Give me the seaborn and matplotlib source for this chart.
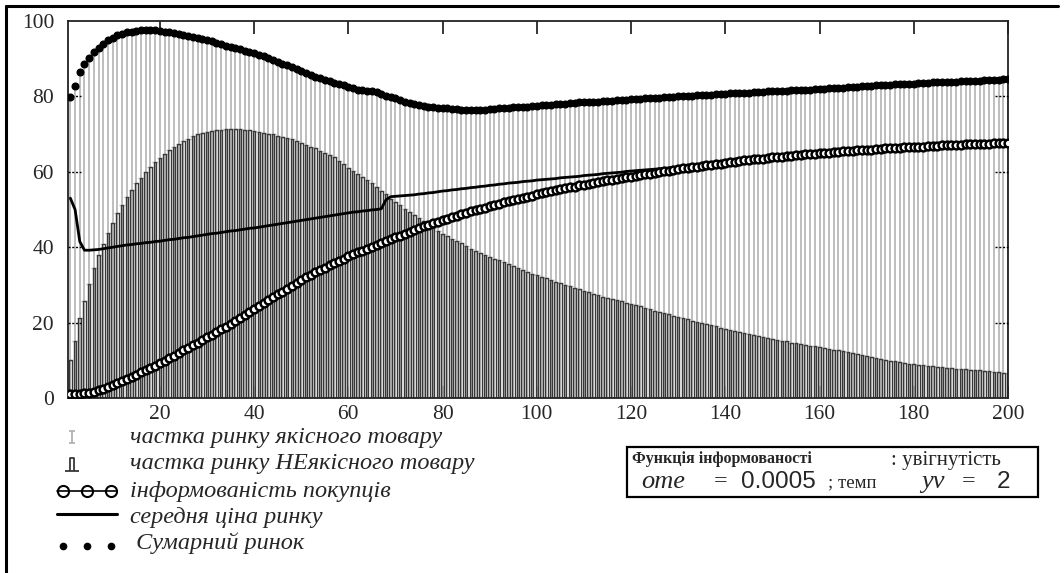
import numpy as np
import matplotlib
matplotlib.use("Agg")
import matplotlib.pyplot as plt
from matplotlib.lines import Line2D
from matplotlib.path import Path
import seaborn as sns

# step number (1..200)
x = np.arange(1, 201)

# total market (black dots)
total = [
    79.9, 82.8, 86.4, 88.5, 90.2, 91.7, 92.9, 94.0, 94.9, 95.6,
    96.2, 96.6, 97.0, 97.2, 97.4, 97.5, 97.6, 97.5, 97.5, 97.4,
    97.2, 97.0, 96.8, 96.6, 96.3, 96.1, 95.8, 95.5, 95.2, 94.9,
    94.6, 94.2, 93.8, 93.4, 93.1, 92.8, 92.5, 92.1, 91.7, 91.4,
    91.0, 90.6, 90.1, 89.6, 89.2, 88.7, 88.2, 87.7, 87.2, 86.7,
    86.2, 85.7, 85.2, 84.8, 84.4, 84.0, 83.6, 83.2, 82.9, 82.6,
    82.2, 81.8, 81.6, 81.4, 81.3, 81.1, 80.6, 80.2, 79.9, 79.5,
    79.0, 78.6, 78.2, 77.9, 77.6, 77.4, 77.2, 77.1, 77.0, 76.9,
    76.8, 76.7, 76.6, 76.5, 76.4, 76.4, 76.4, 76.5, 76.5, 76.6,
    76.7, 76.8, 76.9, 77.0, 77.1, 77.2, 77.3, 77.3, 77.4, 77.5,
    77.6, 77.7, 77.8, 77.9, 78.0, 78.1, 78.2, 78.3, 78.4, 78.4,
    78.5, 78.6, 78.6, 78.7, 78.8, 78.9, 79.0, 79.0, 79.1, 79.2,
    79.3, 79.4, 79.5, 79.5, 79.6, 79.7, 79.8, 79.9, 79.9, 80.0,
    80.1, 80.1, 80.2, 80.3, 80.4, 80.4, 80.5, 80.6, 80.6, 80.7,
    80.8, 80.8, 80.9, 80.9, 81.0, 81.1, 81.1, 81.2, 81.3, 81.3,
    81.4, 81.4, 81.5, 81.6, 81.6, 81.7, 81.7, 81.8, 81.9, 81.9,
    82.0, 82.1, 82.2, 82.2, 82.3, 82.4, 82.5, 82.6, 82.7, 82.8,
    82.8, 82.9, 83.0, 83.1, 83.1, 83.2, 83.3, 83.3, 83.4, 83.4,
    83.5, 83.6, 83.6, 83.7, 83.7, 83.8, 83.8, 83.9, 83.9, 84.0,
    84.0, 84.1, 84.1, 84.2, 84.3, 84.3, 84.4, 84.4, 84.5, 84.5,
]

# share of the low-quality goods (dark bars)
low_share = [
    10.1, 15.0, 21.2, 25.8, 30.2, 34.4, 38.0, 40.9, 43.7, 46.3,
    49.0, 51.3, 53.4, 55.2, 56.9, 58.4, 60.0, 61.4, 62.6, 63.7,
    64.8, 65.8, 66.7, 67.5, 68.2, 68.8, 69.4, 69.9, 70.3, 70.6,
    70.9, 71.1, 71.2, 71.3, 71.4, 71.4, 71.3, 71.2, 71.0, 70.8,
    70.6, 70.4, 70.1, 69.9, 69.6, 69.3, 68.9, 68.6, 68.2, 67.7,
    67.2, 66.7, 66.2, 65.6, 65.0, 64.4, 63.8, 62.9, 62.0, 61.1,
    60.2, 59.4, 58.6, 57.8, 56.9, 56.0, 55.0, 54.0, 52.9, 52.0,
    51.1, 50.2, 49.4, 48.6, 47.8, 46.9, 46.1, 45.2, 44.3, 43.6,
    43.0, 42.3, 41.6, 41.0, 40.3, 39.6, 39.0, 38.5, 38.0, 37.5,
    37.0, 36.5, 36.0, 35.5, 35.0, 34.5, 34.0, 33.5, 33.0, 32.5,
    32.1, 31.7, 31.3, 30.9, 30.4, 30.0, 29.6, 29.2, 28.8, 28.4,
    28.0, 27.6, 27.3, 26.9, 26.6, 26.3, 26.0, 25.7, 25.3, 25.0,
    24.7, 24.4, 24.0, 23.6, 23.2, 22.8, 22.5, 22.2, 21.8, 21.5,
    21.2, 20.9, 20.5, 20.2, 19.9, 19.6, 19.3, 19.0, 18.6, 18.3,
    18.0, 17.8, 17.5, 17.3, 17.0, 16.8, 16.5, 16.3, 16.0, 15.7,
    15.5, 15.2, 15.0, 14.7, 14.5, 14.3, 14.1, 13.9, 13.7, 13.5,
    13.3, 13.1, 12.8, 12.6, 12.4, 12.2, 11.9, 11.7, 11.4, 11.2,
    10.9, 10.6, 10.4, 10.1, 9.9, 9.7, 9.5, 9.3, 9.1, 9.0,
    8.8, 8.7, 8.5, 8.4, 8.3, 8.1, 8.0, 7.9, 7.8, 7.7,
    7.6, 7.5, 7.4, 7.3, 7.2, 7.1, 7.0, 6.8, 6.7, 6.6,
]

# buyers' awareness (circles)
awareness = [
    1.0, 1.0, 1.1, 1.2, 1.4, 1.6, 2.0, 2.4, 2.9, 3.4,
    3.9, 4.4, 5.0, 5.6, 6.2, 6.8, 7.4, 8.0, 8.6, 9.2,
    9.8, 10.5, 11.2, 11.9, 12.6, 13.3, 14.0, 14.7, 15.4, 16.1,
    16.8, 17.5, 18.2, 18.9, 19.6, 20.3, 21.1, 21.9, 22.7, 23.5,
    24.3, 25.1, 25.9, 26.7, 27.5, 28.2, 29.0, 29.8, 30.6, 31.3,
    32.0, 32.7, 33.4, 34.0, 34.6, 35.2, 35.8, 36.4, 37.0, 37.6,
    38.1, 38.6, 39.1, 39.6, 40.1, 40.6, 41.1, 41.6, 42.1, 42.6,
    43.1, 43.6, 44.1, 44.6, 45.1, 45.5, 45.9, 46.3, 46.7, 47.1,
    47.5, 47.9, 48.3, 48.7, 49.1, 49.5, 49.8, 50.2, 50.5, 50.9,
    51.2, 51.5, 51.9, 52.2, 52.5, 52.8, 53.1, 53.4, 53.7, 54.0,
    54.3, 54.6, 54.8, 55.1, 55.4, 55.6, 55.9, 56.1, 56.4, 56.6,
    56.8, 57.1, 57.3, 57.5, 57.7, 57.9, 58.1, 58.3, 58.5, 58.7,
    58.9, 59.1, 59.3, 59.5, 59.7, 59.9, 60.1, 60.3, 60.5, 60.7,
    60.9, 61.1, 61.3, 61.4, 61.6, 61.8, 61.9, 62.1, 62.2, 62.4,
    62.5, 62.7, 62.8, 63.0, 63.1, 63.3, 63.4, 63.5, 63.7, 63.8,
    63.9, 64.0, 64.2, 64.3, 64.4, 64.5, 64.6, 64.7, 64.8, 64.9,
    65.0, 65.1, 65.2, 65.3, 65.4, 65.5, 65.6, 65.7, 65.8, 65.8,
    65.9, 66.0, 66.1, 66.2, 66.2, 66.3, 66.4, 66.5, 66.5, 66.6,
    66.7, 66.7, 66.8, 66.9, 66.9, 67.0, 67.0, 67.1, 67.2, 67.2,
    67.3, 67.3, 67.4, 67.4, 67.5, 67.5, 67.6, 67.6, 67.7, 67.7,
]

# average market price (solid line)
price = [
    53.0, 50.0, 41.5, 39.2, 39.2, 39.3, 39.4, 39.6, 39.8, 40.0,
    40.2, 40.4, 40.6, 40.7, 40.9, 41.0, 41.2, 41.3, 41.5, 41.6,
    41.8, 42.0, 42.1, 42.3, 42.5, 42.6, 42.8, 43.0, 43.2, 43.4,
    43.6, 43.7, 43.9, 44.1, 44.3, 44.4, 44.6, 44.8, 45.0, 45.1,
    45.3, 45.5, 45.7, 45.9, 46.1, 46.3, 46.5, 46.7, 46.9, 47.1,
    47.3, 47.5, 47.7, 47.9, 48.1, 48.3, 48.5, 48.7, 48.9, 49.1,
    49.3, 49.4, 49.6, 49.7, 49.9, 50.0, 50.2, 52.6, 53.4, 53.5,
    53.6, 53.7, 53.8, 53.9, 54.1, 54.2, 54.4, 54.5, 54.7, 54.9,
    55.0, 55.2, 55.3, 55.5, 55.6, 55.8, 55.9, 56.1, 56.2, 56.4,
    56.5, 56.7, 56.8, 57.0, 57.1, 57.2, 57.4, 57.5, 57.6, 57.8,
    57.9, 58.0, 58.1, 58.2, 58.4, 58.5, 58.6, 58.7, 58.8, 59.0,
    59.1, 59.2, 59.3, 59.5, 59.6, 59.7, 59.8, 59.9, 60.1, 60.2,
    60.3, 60.4, 60.5, 60.6, 60.7, 60.8, 60.9, 61.0, 61.1, 61.2,
    61.3, 61.4, 61.5, 61.6, 61.7, 61.8, 61.9, 62.0, 62.1, 62.2,
    62.3, 62.4, 62.5, 62.6, 62.7, 62.8, 62.9, 63.0, 63.1, 63.2,
    63.3, 63.4, 63.5, 63.6, 63.7, 63.8, 63.9, 64.0, 64.1, 64.2,
    64.3, 64.4, 64.5, 64.6, 64.7, 64.8, 64.9, 65.0, 65.1, 65.2,
    65.3, 65.4, 65.5, 65.6, 65.7, 65.8, 65.9, 66.0, 66.1, 66.2,
    66.3, 66.4, 66.5, 66.6, 66.7, 66.8, 66.9, 67.0, 67.1, 67.2,
    67.3, 67.4, 67.5, 67.6, 67.7, 67.8, 67.9, 68.0, 68.1, 68.2,
]

x_ticks = [20, 40, 60, 80, 100, 120, 140, 160, 180, 200]
y_ticks = [0, 20, 40, 60, 80, 100]
labels = [
    "частка ринку якісного товару",
    "частка ринку НЕякісного товару",
    "інформованість покупців",
    "середня ціна ринку",
    " Сумарний ринок",
]

sns.set_style("white")
plt.rcParams["font.family"] = ["Liberation Serif", "DejaVu Serif"]

W, H = 1064, 573
fig = plt.figure(figsize=(W / 100, H / 100), dpi=100)
fx = lambda p: p / W
fy = lambda p: 1 - p / H

ax = fig.add_axes([fx(68), fy(398), fx(1008) - fx(68), fy(21) - fy(398)])

gray = "#b3b3b3"
dark = "#383838"

# light stems (quality goods) with small caps
ax.vlines(x, 0, total, color=gray, lw=1.2, zorder=1)
ax.scatter(x, total, marker="_", s=14, color=gray, linewidths=1.0, zorder=1)
ax.scatter(x, low_share, marker="_", s=14, color=gray, linewidths=1.0, zorder=1)

# hollow dark bars (low-quality goods)
ax.bar(x, low_share, width=0.55, facecolor="none", edgecolor=dark, linewidth=1.0, zorder=2)

sns.lineplot(x=x, y=price, ax=ax, color="black", lw=2.0, zorder=3)
ax.plot(x, awareness, color="black", lw=1.0, marker="o", ms=5.6,
        mfc="white", mec="black", mew=1.8, zorder=4)
ax.plot(x, total, ls="none", marker="o", ms=4.8, color="black", zorder=5)

ax.set_xlim(0.5, 200)
ax.set_ylim(0, 100)
ax.set_xticks(x_ticks)
ax.set_yticks(y_ticks)
ax.tick_params(axis="x", direction="in", top=True, bottom=True, length=9, width=1.3,
               labelsize=15.5, pad=5)
ax.tick_params(axis="y", direction="in", left=False, right=False, labelsize=15.5, pad=10)
for s in ax.spines.values():
    s.set_linewidth(1.3)
    s.set_color("#222222")

# dotted y tick marks at both sides
for v in y_ticks[1:-1]:
    ax.plot([0, 0.014], [v, v], transform=ax.get_yaxis_transform(), color="black",
            lw=1.0, ls=(0, (1.5, 1.2)), clip_on=False, zorder=6)
    ax.plot([0.986, 1], [v, v], transform=ax.get_yaxis_transform(), color="black",
            lw=1.0, ls=(0, (1.5, 1.2)), clip_on=False, zorder=6)

# legend (drawn by hand to keep the tight Mathcad-like rows)
err_path = Path([(-0.5, -1), (0.5, -1), (0, -1), (0, 1), (-0.5, 1), (0.5, 1)],
                [Path.MOVETO, Path.LINETO, Path.MOVETO, Path.LINETO, Path.MOVETO, Path.LINETO])
bar_path = Path([(-1, -1), (1, -1), (-0.35, -1), (-0.35, 0.8), (0.35, 0.8), (0.35, -1)],
                [Path.MOVETO, Path.LINETO, Path.MOVETO, Path.LINETO, Path.LINETO, Path.LINETO])
rows = [437, 464, 491, 517, 543]
fig.add_artist(Line2D([fx(72)], [fy(rows[0])], ls="none", marker=err_path, ms=8,
                      mec=gray, mew=1.3))
fig.add_artist(Line2D([fx(72)], [fy(rows[1])], ls="none", marker=bar_path, ms=10,
                      mec=dark, mew=1.3, mfc="none"))
fig.add_artist(Line2D([fx(57), fx(117)], [fy(rows[2])] * 2, color="black", lw=1.2))
fig.add_artist(Line2D([fx(63), fx(87), fx(111)], [fy(rows[2])] * 3, ls="none", marker="o",
                      ms=8, mfc="none", mec="black", mew=1.5))
fig.add_artist(Line2D([fx(57), fx(117)], [fy(rows[3] - 3)] * 2, color="black", lw=2.2))
fig.add_artist(Line2D([fx(63), fx(87), fx(111)], [fy(rows[4] + 3)] * 3, ls="none",
                      marker="o", ms=4.5, color="black"))
for lab, r in zip(labels, rows):
    fig.text(fx(130), fy(r), lab, fontsize=17.5, style="italic", va="center")

# parameter box
fig.patches.append(plt.Rectangle((fx(627), fy(497)), fx(1038) - fx(627), fy(447) - fy(497),
                                 transform=fig.transFigure, fill=False, ec="black", lw=1.6))
fig.text(fx(632), fy(459), "Функція інформованості", fontsize=11.5, weight="bold", va="center")
fig.text(fx(891), fy(460), ": увігнутість", fontsize=15, va="center")
fig.text(fx(641), fy(482), "ome", fontsize=19, style="italic", va="center")
fig.text(fx(714), fy(482), "=", fontsize=17.5, va="center")
fig.text(fx(741), fy(482), "0.0005", fontsize=17.5, va="center", family="Liberation Sans")
fig.text(fx(828), fy(483), "; темп", fontsize=13.5, va="center")
fig.text(fx(921), fy(482), "yv", fontsize=19, style="italic", va="center")
fig.text(fx(962), fy(482), "=", fontsize=17.5, va="center")
fig.text(fx(997), fy(482), "2", fontsize=17.5, va="center", family="Liberation Sans")

# outer region border
fig.add_artist(Line2D([fx(6), fx(1058)], [fy(6), fy(6)], color="black", lw=2.2))
fig.add_artist(Line2D([fx(6), fx(6)], [fy(6), 0], color="black", lw=2.2))

fig.savefig("out.png", dpi=100, facecolor="white")
